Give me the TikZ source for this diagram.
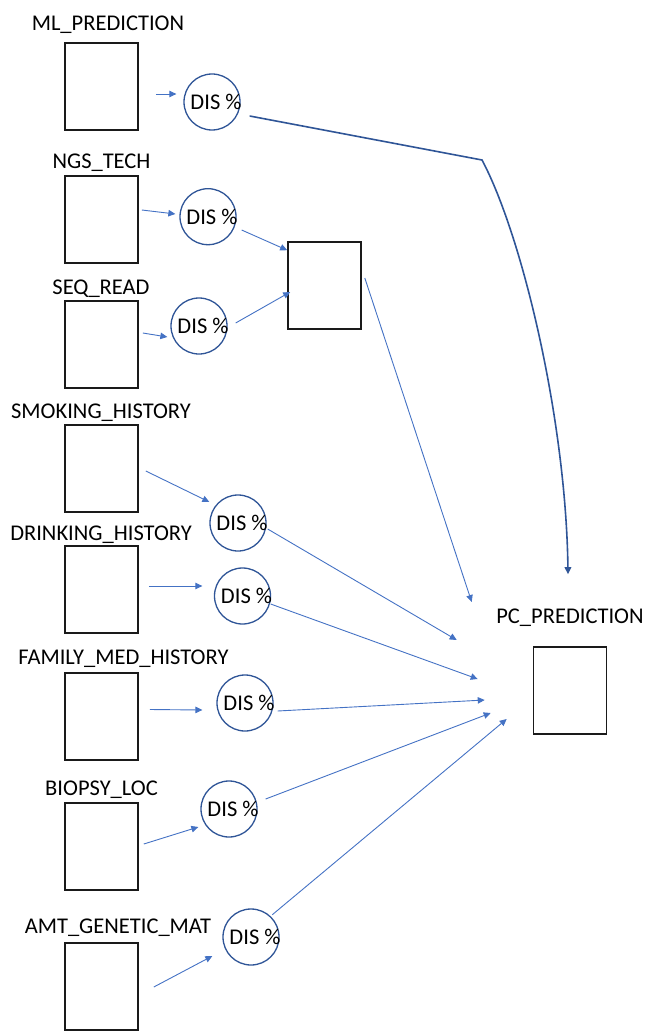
\documentclass[tikz,border=0pt]{standalone}
\usepackage{fontspec}
\setmainfont{Carlito}
\usepackage{tikz}
\usetikzlibrary{arrows.meta, positioning, calc}
\definecolor{boxline}{HTML}{1a1a1a}
\definecolor{ring}{HTML}{2f5597}
\definecolor{flow}{HTML}{4472c4}

\begin{document}
\begin{tikzpicture}[x=1pt, y=-1pt,
    font=\fontsize{22.5}{27}\selectfont,
    field/.style={rectangle, draw=boxline, line width=1.6pt, minimum width=73pt,
                  minimum height=87pt, inner sep=0pt},
    score/.style={circle, draw=ring, line width=1.3pt, minimum size=56pt,
                  inner sep=0pt, label={[xshift=4pt, inner sep=0pt]center:DIS~\%}},
    title/.style={anchor=base, inner sep=0pt},
    link/.style={-{Triangle[length=7pt, width=6.5pt]}, flow, line width=0.9pt}
]
    \useasboundingbox (0,0) rectangle (653,1035);

    % input fields
    \node[field] (ml)     at (101.5,86.5)  {};
    \node[field] (ngs)    at (101.5,219.5) {};
    \node[field] (seq)    at (101.5,344.5) {};
    \node[field] (smoke)  at (101.5,468.5) {};
    \node[field] (drink)  at (101.5,589.5) {};
    \node[field] (family) at (101.5,716.5) {};
    \node[field] (biopsy) at (101.5,846.5) {};
    \node[field] (amt)    at (101.5,986.5) {};

    \node[title] (ml label)     at (108,31)    {ML\_PREDICTION};
    \node[title] (ngs label)    at (101.5,169) {NGS\_TECH};
    \node[title] (seq label)    at (101,294)   {SEQ\_READ};
    \node[title] (smoke label)  at (101,418)   {SMOKING\_HISTORY};
    \node[title] (drink label)  at (101,540)   {DRINKING\_HISTORY};
    \node[title] (family label) at (123.5,664) {FAMILY\_MED\_HISTORY};
    \node[title] (biopsy label) at (101.5,795) {BIOPSY\_LOC};
    \node[title] (amt label)    at (118,933)   {AMT\_GENETIC\_MAT};

    % discretised scores
    \node[score] (ml dis)     at (212,102)   {};
    \node[score] (ngs dis)    at (208,216.7) {};
    \node[score] (seq dis)    at (199,326)   {};
    \node[score] (smoke dis)  at (238,523)   {};
    \node[score] (drink dis)  at (242.5,596) {};
    \node[score] (family dis) at (245,703)   {};
    \node[score] (biopsy dis) at (229,809)   {};
    \node[score] (amt dis)    at (251,937)   {};

    % sequencing merge and final prediction
    \node[field] (merge) at (324.5,285.5) {};
    \node[field] (pc)    at (570,690.5)   {};
    \node[title] (pc label) at (570,623) {PC\_PREDICTION};

    \coordinate (bend) at (482,160);

    \draw[link] ([shift={(17,7.5)}]ml.east)    -- ([shift={(-7,-8)}]ml dis.west);
    \draw[link] ([shift={(3,-9.5)}]ngs.east)   -- ([shift={(-4,-2.7)}]ngs dis.west);
    \draw[link] ([shift={(4,-11.5)}]seq.east)  -- ([shift={(-3,11)}]seq dis.west);
    \draw[link] ([shift={(7,2.5)}]smoke.east)  -- ([shift={(0,-21)}]smoke dis.west);
    \draw[link] ([shift={(10,-3.5)}]drink.east) -- ([shift={(-11.5,-10)}]drink dis.west);
    \draw[link] ([shift={(11,-7)}]family.east) -- ([shift={(-14,7)}]family dis.west);
    \draw[link] ([shift={(5,-2.5)}]biopsy.east) -- ([shift={(-2,18)}]biopsy dis.west);
    \draw[link] ([shift={(15,0.5)}]amt.east)   -- ([shift={(-10,19)}]amt dis.west);

    \draw[link] ([shift={(5,13.3)}]ngs dis.east) -- ([shift={(0,9)}]merge.north west);
    \draw[link] ([shift={(8,-3)}]seq dis.east)   -- ([shift={(3,6.5)}]merge.west);

    \draw[link] ([shift={(3,-7.5)}]merge.east)    -- ([shift={(-61,-88.5)}]pc.west);
    \draw[link] ([shift={(1,6)}]smoke dis.east)   -- ([shift={(-76,-50.5)}]pc.west);
    \draw[link] ([shift={(-0.5,8)}]drink dis.east) -- ([shift={(-55,-11.5)}]pc.west);
    \draw[link] ([shift={(4,8)}]family dis.east)  -- ([shift={(-48,9.5)}]pc.west);
    \draw[link] ([shift={(8,-10)}]biopsy dis.east) -- ([shift={(-42,22.5)}]pc.west);
    \draw[link] ([shift={(1,-2)}]amt dis.north east) -- ([shift={(-26,28.5)}]pc.west);

    % ML prediction bypasses the merge
    \draw[link, ring, line width=1.6pt] ([shift={(9,14)}]ml dis.east) -- (bend)
        .. controls +(40,75) and +(-2,-155) .. ([shift={(-2,-72)}]pc.north);
\end{tikzpicture}
\end{document}
